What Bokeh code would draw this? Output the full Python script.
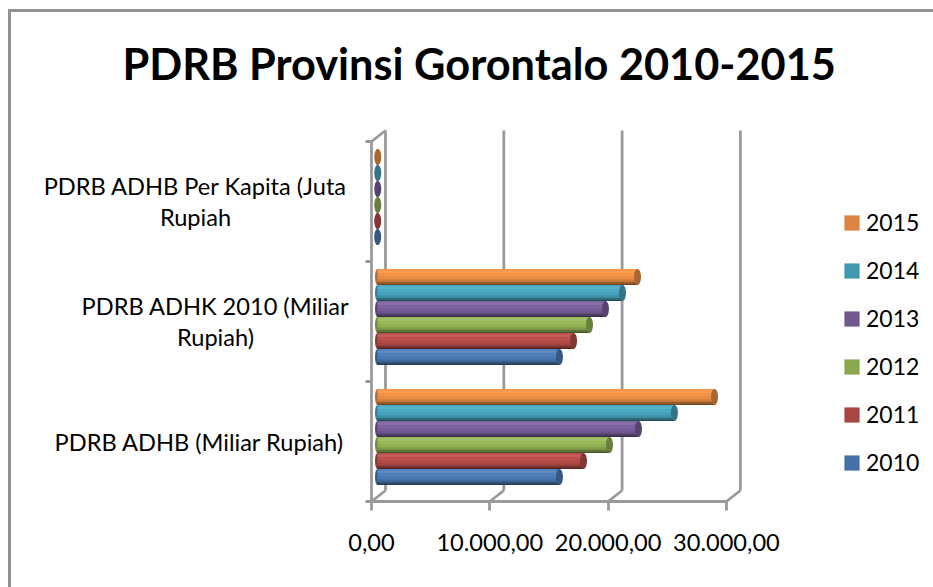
from bokeh.plotting import figure
from bokeh.models import (Range1d, FixedTicker, Legend, LegendItem, Label,
                          ColumnDataSource)
from bokeh.embed import file_html
from bokeh.resources import INLINE

title_text = "PDRB Provinsi Gorontalo 2010-2015"
category_lines = ["PDRB ADHB (Miliar Rupiah)",
                  "PDRB ADHK 2010 (Miliar\nRupiah)",
                  "PDRB ADHB Per Kapita (Juta\nRupiah"]
years = ["2010", "2011", "2012", "2013", "2014", "2015"]

# order of values: ADHB, ADHK 2010, per capita
v2010 = [15380, 15380, 15.2]
v2011 = [17410, 16570, 16.7]
v2012 = [19610, 17920, 18.6]
v2013 = [22060, 19270, 20.9]
v2014 = [25100, 20710, 22.8]
v2015 = [28490, 21980, 25.4]
series = [v2010, v2011, v2012, v2013, v2014, v2015]

x_ticks = [0, 10000, 20000, 30000]
x_tick_labels = ["0,00", "10.000,00", "20.000,00", "30.000,00"]

body_colors = ["#4F81BD", "#C0504D", "#9BBB59", "#8064A2", "#4BACC6", "#F79646"]
legend_colors = ["#4471A6", "#A94643", "#8AA64F", "#71588F", "#4198AF", "#DE8344"]

FONT = "Lato"
GRID = "#9a9a9a"
GRID_W = 2.8
PX_X = 118.3 / 10000     # pixels per value unit
PX_Y = 120.0             # pixels per category
LEFT_PAD, RIGHT_PAD = 371, 562    # room left and right of the value origin
BOTTOM_PAD, TOP_PAD = 86, 501     # room below and above the axis floor

centres = list(range(len(category_lines)))
edges = [c - 0.5 for c in centres] + [centres[-1] + 0.5]

p = figure(width=933, height=587, output_backend="svg", toolbar_location=None,
           x_range=Range1d(-LEFT_PAD / PX_X, RIGHT_PAD / PX_X),
           y_range=Range1d(edges[0] - BOTTOM_PAD / PX_Y, edges[0] + TOP_PAD / PX_Y),
           min_border=0,
           outline_line_color=None, border_fill_alpha=0, background_fill_alpha=0)
p.grid.visible = False

# chart border: only its top and left edges are visible in the window
p.styles = {
    "background-image": "linear-gradient(#929292,#929292), linear-gradient(#929292,#929292)",
    "background-size": "100% 3px, 3px 100%",
    "background-position": "8px 9px, 8px 9px",
    "background-repeat": "no-repeat",
}

# bottom axis
xa = p.xaxis[0]
xa.fixed_location = edges[0]
xa.ticker = FixedTicker(ticks=x_ticks)
xa.major_label_overrides = dict(zip(x_ticks, x_tick_labels))
xa.bounds = (x_ticks[0], x_ticks[-1])
xa.axis_line_color = GRID
xa.axis_line_width = GRID_W
xa.major_tick_line_color = GRID
xa.major_tick_line_width = GRID_W
xa.major_tick_out = 9
xa.major_tick_in = 0
xa.minor_tick_out = 0
xa.minor_tick_in = 0
xa.major_label_standoff = 23
xa.major_label_text_font = FONT
xa.major_label_text_font_size = "23.6px"
xa.major_label_text_color = "#000000"

# left axis: ticks between the categories, names beside it
ya = p.yaxis[0]
ya.fixed_location = 0
ya.ticker = FixedTicker(ticks=edges)
ya.major_label_overrides = {e: "" for e in edges}
ya.bounds = (edges[0], edges[-1])
ya.axis_line_color = GRID
ya.axis_line_width = GRID_W
ya.major_tick_line_color = GRID
ya.major_tick_line_width = GRID_W
ya.major_tick_out = 6
ya.major_tick_in = 0
ya.minor_tick_out = 0
ya.minor_tick_in = 0

# back wall of the 3D box
DEPTH_X = 14 / PX_X
DEPTH_Y = 11 / PX_Y
p.segment(x0=[t + DEPTH_X for t in x_ticks], x1=[t + DEPTH_X for t in x_ticks],
          y0=[edges[0] + DEPTH_Y] * 4, y1=[edges[-1] + DEPTH_Y] * 4,
          line_color=GRID, line_width=GRID_W)
p.segment(x0=x_ticks, x1=[t + DEPTH_X for t in x_ticks],
          y0=[edges[0]] * 4, y1=[edges[0] + DEPTH_Y] * 4,
          line_color=GRID, line_width=GRID_W)
p.segment(x0=[0], x1=[DEPTH_X], y0=[edges[-1]], y1=[edges[-1] + DEPTH_Y],
          line_color=GRID, line_width=GRID_W)

# bars
def shade(c, f):
    r, g, b = (int(c[i:i + 2], 16) for i in (1, 3, 5))
    if f > 1:
        return "#%02x%02x%02x" % tuple(round(k + (255 - k) * (f - 1)) for k in (r, g, b))
    return "#%02x%02x%02x" % tuple(round(k * f) for k in (r, g, b))

BAR_H = 16 / PX_Y
BAR_SHIFT = 4.5 / PX_Y      # bars sit a little behind the category centre
ORIGIN = 6 / PX_X
STRIPS = [1.0, 1.10, 1.06, 1.0, 1.0, 0.96, 0.92, 0.88, 0.8, 0.62, 0.45]
STRIP_H = BAR_H / len(STRIPS)

items = []
for i, vals in enumerate(series):
    ys = [c + BAR_SHIFT + (i - 2.5) * BAR_H for c in centres]
    rights = [ORIGIN + v for v in vals]
    src = ColumnDataSource(dict(y=ys, right=rights, left=[ORIGIN] * len(vals)))
    base = p.hbar(y="y", left="left", right="right", height=BAR_H, source=src,
                  fill_color=legend_colors[i], line_color=None)
    p.ellipse(x="left", y="y", width=5, height=16, width_units="screen", height_units="screen",
              source=src, fill_color=shade(body_colors[i], 0.72), line_color=None)
    for k, f in enumerate(STRIPS):
        off = (0.5 - (k + 0.5) / len(STRIPS)) * BAR_H
        p.hbar(y=[y + off for y in ys], left=[ORIGIN] * len(vals), right=rights, height=STRIP_H * 1.05,
               fill_color=shade(body_colors[i], f), line_color=None)
    p.ellipse(x="right", y="y", width=7, height=16, width_units="screen", height_units="screen",
              source=src, fill_color=shade(body_colors[i], 0.68), line_color=None)
    items.append(LegendItem(label=years[i], renderers=[base]))

legend = Legend(items=items[::-1], location=(842, 111), orientation="vertical",
                spacing=20, padding=0, margin=0, glyph_width=19, glyph_height=19,
                label_height=19, label_standoff=5, label_text_font=FONT,
                label_text_font_size="23px", label_text_color="#000000",
                border_line_color=None, background_fill_alpha=0)
p.add_layout(legend)

# category names
label_centre_px = [199, 215, 195]
for c, text, lx in zip(centres, category_lines, label_centre_px):
    p.add_layout(Label(x=(lx - LEFT_PAD) / PX_X, y=c, text=text, text_align="center",
                       text_baseline="middle", text_font=FONT, text_font_size="23.6px",
                       text_color="#000000", text_line_height=1.1))

# title
p.add_layout(Label(x=(122 - LEFT_PAD) / PX_X, y=edges[0] + (501 - 62) / PX_Y, text=title_text,
                   text_align="left", text_baseline="middle", text_font=FONT,
                   text_font_style="bold", text_font_size="43.3px", text_color="#000000"))

open("out.html", "w").write(file_html(p, INLINE))
